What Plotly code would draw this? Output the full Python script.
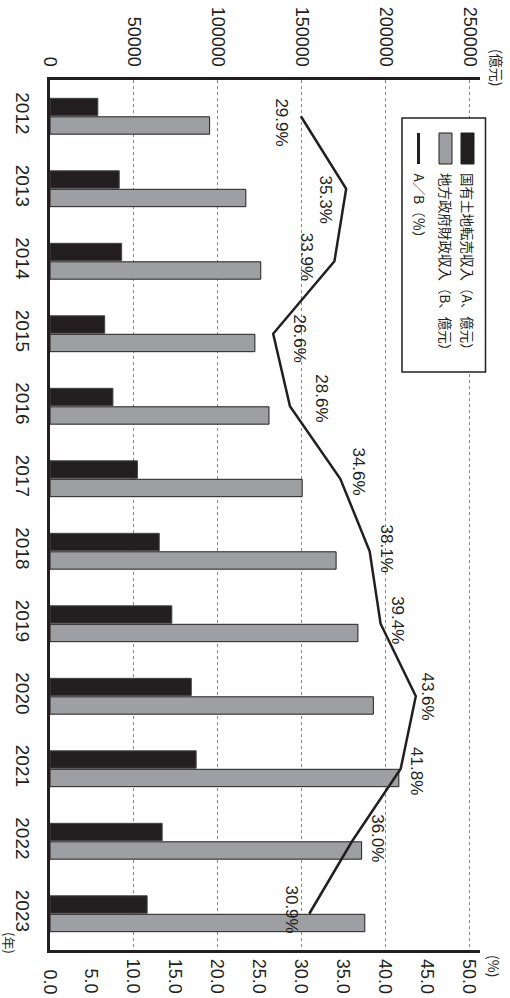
import plotly.graph_objects as go

# ---- data ----
years = ["2012", "2013", "2014", "2015", "2016", "2017", "2018", "2019", "2020", "2021", "2022", "2023"]
land_sales = [28500, 41250, 42700, 32600, 37500, 52100, 65100, 72600, 84200, 87100, 66850, 57900]          # A, 億元
local_revenue = [95100, 116700, 125600, 122100, 130500, 150300, 170500, 183500, 192700, 207900, 185700, 187600]  # B, 億元
ratio = [29.9, 35.3, 33.9, 26.6, 28.6, 34.6, 38.1, 39.4, 43.6, 41.8, 36.0, 30.9]  # A/B %
ratio_labels = ["29.9%", "35.3%", "33.9%", "26.6%", "28.6%", "34.6%", "38.1%", "39.4%", "43.6%", "41.8%", "36.0%", "30.9%"]
left_ticks = [0, 50000, 100000, 150000, 200000, 250000]
right_ticks = [0, 5, 10, 15, 20, 25, 30, 35, 40, 45, 50]

# label offsets (px) for ratio labels
label_dx = [-19, -21, -28, 26, 32, 18, 17, 17, 12, 16, 26, -18]
label_dy = [-6, -11, 4, -5, 8, 7, 3, 4, 0, -2, 3, 4]

W, H = 510, 998
ML, MR, MT, MB = 50, 30, 80, 48
PW, PH = W - ML - MR, H - MT - MB

def px(x):
    return (x - ML) / PW

def py(y):
    return (H - MB - y) / PH

INK = "#231f20"
GRAY = "#9d9fa2"
FONT = "Liberation Sans, Arial, sans-serif"
CJK = "Noto Sans CJK JP, sans-serif"

pos = list(range(len(years)))

fig = go.Figure()
fig.add_trace(go.Bar(y=pos, x=land_sales, orientation="h", name="国有土地転売収入（A、億元）",
                     marker=dict(color=INK, line=dict(color="#444", width=1)), xaxis="x", yaxis="y"))
fig.add_trace(go.Bar(y=pos, x=local_revenue, orientation="h", name="地方政府財政収入（B、億元）",
                     marker=dict(color=GRAY, line=dict(color=INK, width=1)), xaxis="x", yaxis="y"))
fig.add_trace(go.Scatter(y=pos, x=ratio, mode="lines", name="A／B（％）",
                         line=dict(color=INK, width=2.5), xaxis="x2", yaxis="y"))

annotations = []
for p, v, t, dx, dy in zip(pos, ratio, ratio_labels, label_dx, label_dy):
    annotations.append(dict(x=v, y=p, xref="x2", yref="y", text=t, showarrow=False,
                            textangle=90, xshift=dx, yshift=dy,
                            font=dict(family=FONT, size=17, color=INK)))

# right (%) axis tick labels, end-aligned like the reference
for v in right_ticks:
    annotations.append(dict(x=v, y=py(996), xref="x2", yref="paper", text="%.1f" % v, showarrow=False,
                            textangle=90, xanchor="center", yanchor="bottom",
                            font=dict(family=FONT, size=18, color=INK)))

# unit labels
annotations.append(dict(x=px(497), y=py(67), xref="paper", yref="paper", text="(億元)", showarrow=False,
                        textangle=90, xanchor="center", yanchor="middle", font=dict(family=CJK, size=14, color=INK)))
annotations.append(dict(x=px(494), y=py(966), xref="paper", yref="paper", text="(%)", showarrow=False,
                        textangle=90, xanchor="center", yanchor="middle", font=dict(family=CJK, size=14, color=INK)))
annotations.append(dict(x=px(10), y=py(943), xref="paper", yref="paper", text="(年)", showarrow=False,
                        textangle=90, xanchor="center", yanchor="middle", font=dict(family=CJK, size=13, color=INK)))

# legend (rotated)
shapes = [
    dict(type="rect", xref="paper", yref="paper", x0=px(402), x1=px(485.5), y0=py(118), y1=py(372),
         line=dict(color=INK, width=1.5), fillcolor="white", layer="above"),
    dict(type="rect", xref="paper", yref="paper", x0=px(461), x1=px(474), y0=py(133), y1=py(164),
         line=dict(color=INK, width=1), fillcolor=INK, layer="above"),
    dict(type="rect", xref="paper", yref="paper", x0=px(439), x1=px(452), y0=py(133), y1=py(164),
         line=dict(color=INK, width=1), fillcolor=GRAY, layer="above"),
    dict(type="line", xref="paper", yref="paper", x0=px(418.5), x1=px(418.5), y0=py(133), y1=py(164),
         line=dict(color=INK, width=3), layer="above"),
]
for cx, txt in [(468, "国有土地転売収入（A、億元）"), (446, "地方政府財政収入（B、億元）"), (419, "A／B（％）")]:
    annotations.append(dict(x=px(cx), y=py(171), xref="paper", yref="paper", text=txt, showarrow=False,
                            textangle=90, xanchor="center", yanchor="top",
                            font=dict(family=CJK, size=13.5, color=INK)))

fig.update_layout(
    width=W, height=H,
    margin=dict(l=ML, r=MR, t=MT, b=MB, pad=0, autoexpand=False),
    paper_bgcolor="white", plot_bgcolor="white",
    showlegend=False,
    barmode="group", bargap=0.49, bargroupgap=0.06,
    xaxis=dict(side="top", range=[0, 256250], tickvals=left_ticks, ticktext=[str(v) for v in left_ticks],
               tickangle=90, showgrid=True, gridcolor="#8a8a8a", griddash="dot", gridwidth=1,
               showline=True, linecolor=INK, linewidth=3, zeroline=False, ticks="", ticklen=0,
               ticklabelstandoff=4, automargin=False,
               tickfont=dict(family=FONT, size=18, color=INK), fixedrange=True),
    xaxis2=dict(overlaying="x", side="bottom", anchor="y", range=[0, 51.25], tickvals=right_ticks,
                showticklabels=False, showgrid=False,
                showline=True, linecolor=INK, linewidth=3, zeroline=False, ticks="", ticklen=0,
                automargin=False),
    yaxis=dict(range=[len(years) - 0.5, -0.5], tickvals=pos, ticktext=years,
               tickangle=90, showgrid=False, showline=True, linecolor=INK, linewidth=3, ticks="",
               ticklen=0, ticklabelstandoff=8, automargin=False,
               zeroline=False, tickfont=dict(family=FONT, size=19, color=INK)),
    annotations=annotations,
    shapes=shapes,
)

fig.write_html("out.html")
